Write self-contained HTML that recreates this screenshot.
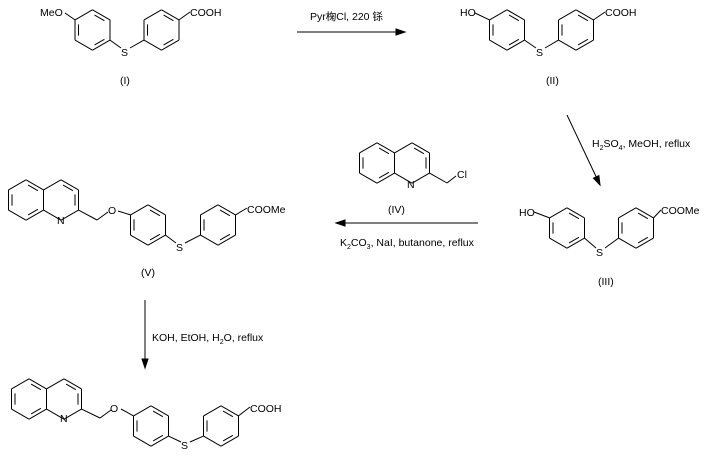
<!DOCTYPE html>
<html><head><meta charset="utf-8"><style>
html,body{margin:0;padding:0;background:#fff;width:709px;height:460px;overflow:hidden}
svg text{font-family:"Liberation Sans","Noto Sans CJK SC",sans-serif;font-size:10.5px;fill:#000}
</style></head><body>
<svg id="s" width="709" height="460" viewBox="0 0 709 460" xmlns="http://www.w3.org/2000/svg">
<g id="g" stroke="#000" stroke-width="1" fill="none" shape-rendering="geometricPrecision"></g>
<text x="40" y="16">MeO</text><text x="121" y="56">S</text><text x="190" y="16">COOH</text><text x="120" y="84">(I)</text>
<text x="310" y="20">Pyr椈Cl, 220 铩</text>
<text x="460" y="16">HO</text><text x="536" y="56">S</text><text x="605" y="16">COOH</text><text x="546" y="84">(II)</text>
<text x="592" y="147">H<tspan font-size="7" dy="3">2</tspan><tspan dy="-3">SO</tspan><tspan font-size="7" dy="3">4</tspan><tspan dy="-3">, MeOH, reflux</tspan></text>
<text x="519" y="216">HO</text><text x="596" y="256">S</text><text x="661" y="214">COOMe</text><text x="598" y="285">(III)</text>
<text x="407" y="188">N</text><text x="457" y="178">Cl</text><text x="388" y="213">(IV)</text>
<text x="340" y="246">K<tspan font-size="7" dy="3">2</tspan><tspan dy="-3">CO</tspan><tspan font-size="7" dy="3">3</tspan><tspan dy="-3">, NaI, butanone, reflux</tspan></text>
<text x="57" y="224">N</text><text x="108" y="214">O</text><text x="176" y="251">S</text><text x="247" y="213">COOMe</text><text x="141" y="276">(V)</text>
<text x="152" y="341">KOH, EtOH, H<tspan font-size="7" dy="3">2</tspan><tspan dy="-3">O, reflux</tspan></text>
<text x="60" y="422">N</text><text x="110" y="412">O</text><text x="181" y="449">S</text><text x="250" y="412">COOH</text>
</svg>
<script>
var g=document.getElementById('g');
function L(a,b,c,d){var e=document.createElementNS('http://www.w3.org/2000/svg','line');e.setAttribute('x1',a);e.setAttribute('y1',b);e.setAttribute('x2',c);e.setAttribute('y2',d);g.appendChild(e);}
function P(pts){var e=document.createElementNS('http://www.w3.org/2000/svg','polygon');e.setAttribute('points',pts);e.setAttribute('fill','#000');g.appendChild(e);}
var dx=17.5,r=20.2;
function V(cx,cy){return [[cx,cy-r],[cx+dx,cy-r/2],[cx+dx,cy+r/2],[cx,cy+r],[cx-dx,cy+r/2],[cx-dx,cy-r/2]];}
function ring(cx,cy,dbl,skip){var v=V(cx,cy);skip=skip||[];for(var i=0;i<6;i++){var a=v[i],b=v[(i+1)%6];if(skip.indexOf(i)<0)L(a[0],a[1],b[0],b[1]);
 if(dbl.indexOf(i)>=0){var f=0.8,s=0.15;var a2=[cx+(a[0]-cx)*f,cy+(a[1]-cy)*f],b2=[cx+(b[0]-cx)*f,cy+(b[1]-cy)*f];
 L(a2[0]+(b2[0]-a2[0])*s,a2[1]+(b2[1]-a2[1])*s,b2[0]-(b2[0]-a2[0])*s,b2[1]-(b2[1]-a2[1])*s);}}return v;}
function diaryl(ax,bx,cy,sx,sy){var A=ring(ax,cy,[0,2,4]),B=ring(bx,cy,[0,2,4]);
 L(A[2][0],A[2][1],sx-4,sy-4);L(sx+5,sy-4,B[4][0],B[4][1]);return [A,B];}
function arrow(x1,y1,x2,y2){L(x1,y1,x2,y2);var ang=Math.atan2(y2-y1,x2-x1),l=9,w=3;
 var bx=x2-l*Math.cos(ang),by=y2-l*Math.sin(ang);
 P(x2+','+y2+' '+(bx-w*Math.sin(ang))+','+(by+w*Math.cos(ang))+' '+(bx+w*Math.sin(ang))+','+(by-w*Math.cos(ang)));}
var m=diaryl(92.5,161.5,30,125,52);L(m[0][5][0],m[0][5][1],65,13);L(m[1][1][0],m[1][1][1],190,12);
arrow(297,32,405,32);
m=diaryl(507,576,30,540,52);L(m[0][5][0],m[0][5][1],475,13);L(m[1][1][0],m[1][1][1],605,12);
arrow(567,115,600,185);
m=diaryl(567,636,228,600,252);L(m[0][5][0],m[0][5][1],534,212);L(m[1][1][0],m[1][1][1],661,210);
function quin(lx,cy){var A=ring(lx,cy,[0,2,4]);var B=ring(lx+2*dx,cy,[0,1],[4]);return B;}
var B=quin(377,163);L(B[2][0],B[2][1],447,183);L(447,183,456,176);
arrow(478,223,336,223);
B=quin(26,200);L(B[2][0],B[2][1],97,220);L(97,220,108,212);
m=diaryl(148,218,225,180,247);L(m[0][5][0],m[0][5][1],118,211);L(m[1][1][0],m[1][1][1],247,208);
arrow(145,300,145,368);
B=quin(29,399);L(B[2][0],B[2][1],100,418);L(100,418,111,410);
m=diaryl(151,221,426,185,446);L(m[0][5][0],m[0][5][1],121,409);L(m[1][1][0],m[1][1][1],250,407);
</script>
</body></html>
